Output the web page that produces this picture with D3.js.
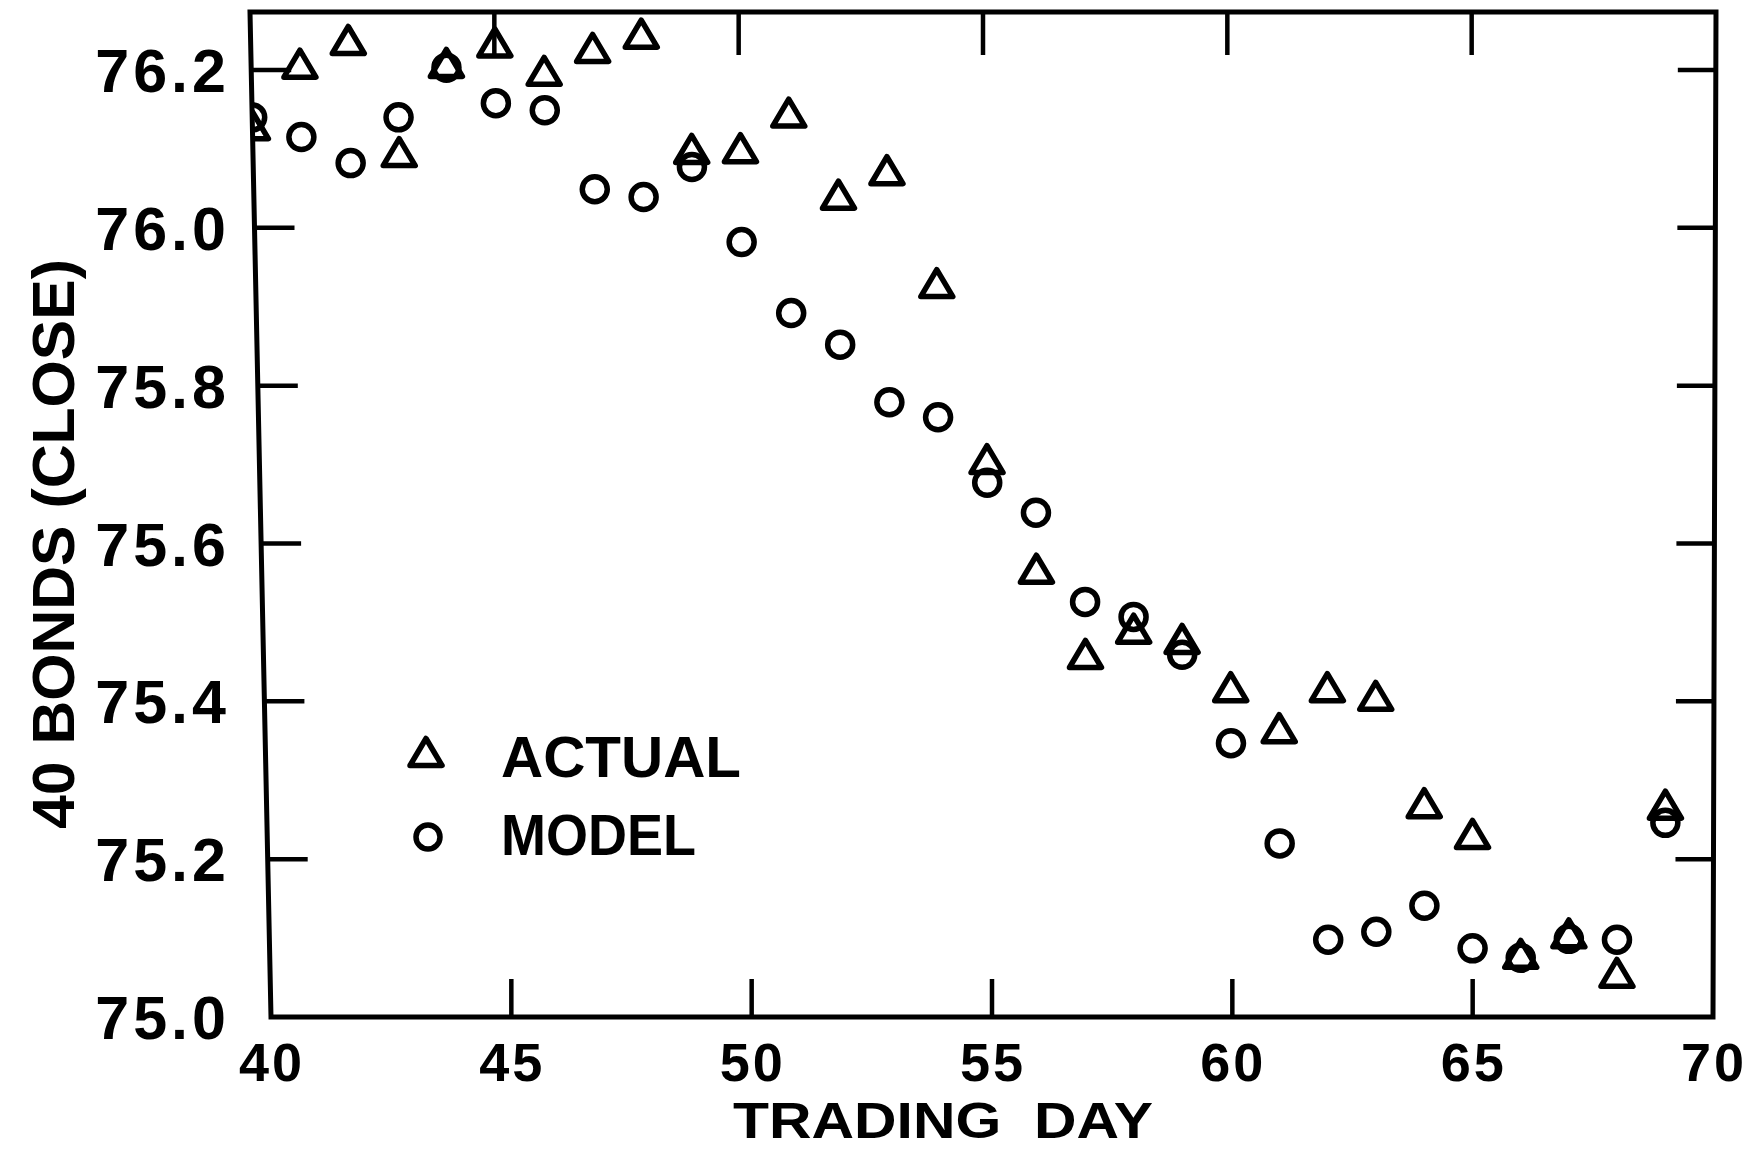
<!DOCTYPE html>
<html>
<head>
<meta charset="utf-8">
<script src="https://cdn.jsdelivr.net/npm/d3@7"></script>
<style>
  html, body { margin: 0; padding: 0; background: #fff; }
  svg { display: block; }
  text { font-family: "Liberation Sans", Arial, sans-serif; font-weight: bold; fill: #000; }
</style>
</head>
<body>
<svg id="chart" width="1748" height="1149"></svg>
<script>
// ---------------- data ----------------
const tradingDays = [40, 41, 42, 43, 44, 45, 46, 47, 48, 49,
                     50, 51, 52, 53, 54, 55, 56, 57, 58, 59,
                     60, 61, 62, 63, 64, 65, 66, 67, 68, 69];

const actualClose = [76.130, 76.208, 76.238, 76.096, 76.209, 76.235, 76.199, 76.228, 76.246, 76.100,
                     76.101, 76.146, 76.042, 76.073, 75.930, 75.707, 75.568, 75.460, 75.492, 75.479,
                     75.418, 75.366, 75.418, 75.407, 75.271, 75.232, 75.080, 75.106, 75.056, 75.269];

const modelClose  = [76.140, 76.115, 76.082, 76.140, 76.203, 76.158, 76.149, 76.049, 76.039, 76.077,
                     75.982, 75.892, 75.852, 75.779, 75.760, 75.677, 75.639, 75.526, 75.507, 75.459,
                     75.347, 75.220, 75.098, 75.108, 75.141, 75.087, 75.075, 75.099, 75.098, 75.246];

const xTickValues = [40, 45, 50, 55, 60, 65, 70];
const xTickLabels = ["40", "45", "50", "55", "60", "65", "70"];
const yTickValues = [75.0, 75.2, 75.4, 75.6, 75.8, 76.0, 76.2];
const yTickLabels = ["75.0", "75.2", "75.4", "75.6", "75.8", "76.0", "76.2"];

const xTitle = "TRADING  DAY";
const yTitle = "40 BONDS (CLOSE)";
const legendLabels = ["ACTUAL", "MODEL"];

// ---------------- scales ----------------
const svg = d3.select("#chart");

const y = d3.scaleLinear().domain([75.0, 76.2]).range([1017, 70]);
const yTopVal = y.invert(12);
// the scanned frame is slightly keystoned: the top edge is a bit wider than the bottom
const xBottom = d3.scaleLinear().domain([40, 70]).range([271, 1713]);
const xTop = d3.scaleLinear().domain([40, 70]).range([250, 1716]);

function px(day, v) {
  const t = (y(75.0) - y(v)) / (y(75.0) - y(yTopVal));
  return xBottom(day) + (xTop(day) - xBottom(day)) * t;
}

const dMin = 40, dMax = 70;
const corners = [[dMin, 75.0], [dMax, 75.0], [dMax, yTopVal], [dMin, yTopVal]]
  .map(([d, v]) => [px(d, v), y(v)]);

// clip region = plot frame
svg.append("defs").append("clipPath").attr("id", "plotClip")
  .append("polygon").attr("points", corners.map(p => p.join(",")).join(" "));

// ---------------- frame & ticks ----------------
const axisG = svg.append("g").attr("stroke", "#000").attr("fill", "none");

axisG.append("polygon")
  .attr("points", corners.map(p => p.join(",")).join(" "))
  .attr("stroke-width", 5)
  .attr("stroke-linejoin", "miter");

const innerY = yTickValues.filter(v => v > 75.0 && v < 76.3);
const innerX = xTickValues.filter(d => d > dMin && d < dMax);

// left ticks (inward)
axisG.selectAll(".lt").data(innerY).join("line")
  .attr("x1", v => px(dMin, v)).attr("x2", v => px(dMin, v) + 40)
  .attr("y1", v => y(v)).attr("y2", v => y(v))
  .attr("stroke-width", 4.5);
// right ticks (inward)
axisG.selectAll(".rt").data(innerY).join("line")
  .attr("x1", v => px(dMax, v)).attr("x2", v => px(dMax, v) - 38)
  .attr("y1", v => y(v)).attr("y2", v => y(v))
  .attr("stroke-width", 4.5);
// bottom ticks (inward)
axisG.selectAll(".bt").data(innerX).join("line")
  .attr("x1", d => px(d, 75.0)).attr("x2", d => px(d, 75.0))
  .attr("y1", y(75.0)).attr("y2", y(75.0) - 38)
  .attr("stroke-width", 4.5);
// top ticks (inward)
axisG.selectAll(".tt").data(innerX).join("line")
  .attr("x1", d => px(d, yTopVal)).attr("x2", d => px(d, yTopVal))
  .attr("y1", y(yTopVal)).attr("y2", y(yTopVal) + 43)
  .attr("stroke-width", 4.5);

// ---------------- tick labels ----------------
svg.append("g").selectAll("text").data(yTickValues).join("text")
  .attr("x", 230)
  .attr("y", v => y(v) + 22)
  .attr("text-anchor", "end")
  .attr("font-size", 61)
  .attr("letter-spacing", 4)
  .text((v, i) => yTickLabels[i]);

svg.append("g").selectAll("text").data(xTickValues).join("text")
  .attr("x", d => xBottom(d) + 1)
  .attr("y", 1081)
  .attr("text-anchor", "middle")
  .attr("font-size", 54)
  .attr("letter-spacing", 3)
  .text((d, i) => xTickLabels[i]);

// ---------------- axis titles ----------------
svg.append("text")
  .attr("x", 943).attr("y", 1138)
  .attr("text-anchor", "middle")
  .attr("font-size", 50)
  .attr("xml:space", "preserve")
  .style("white-space", "pre")
  .attr("textLength", 420)
  .attr("lengthAdjust", "spacingAndGlyphs")
  .text(xTitle);

svg.append("text")
  .attr("transform", "translate(74,544) rotate(-90)")
  .attr("text-anchor", "middle")
  .attr("font-size", 60)
  .attr("textLength", 570)
  .attr("lengthAdjust", "spacingAndGlyphs")
  .text(yTitle);

// ---------------- markers ----------------
const triPath = "M0,-13.5 L16,13.5 L-16,13.5 Z";
const markG = svg.append("g").attr("clip-path", "url(#plotClip)")
  .attr("fill", "none").attr("stroke", "#000").attr("stroke-width", 5.5)
  .attr("stroke-linejoin", "round");

markG.selectAll("path.actual").data(tradingDays).join("path")
  .attr("class", "actual")
  .attr("d", triPath)
  .attr("transform", (d, i) => `translate(${px(d, actualClose[i])},${y(actualClose[i])})`);

markG.selectAll("circle.model").data(tradingDays).join("circle")
  .attr("class", "model")
  .attr("r", 12.5)
  .attr("cx", (d, i) => px(d, modelClose[i]))
  .attr("cy", (d, i) => y(modelClose[i]));

// ---------------- legend ----------------
const legG = svg.append("g");
legG.append("path")
  .attr("d", triPath)
  .attr("transform", "translate(426,752)")
  .attr("fill", "none").attr("stroke", "#000").attr("stroke-width", 5.5)
  .attr("stroke-linejoin", "round");
legG.append("circle")
  .attr("cx", 428).attr("cy", 837).attr("r", 12)
  .attr("fill", "none").attr("stroke", "#000").attr("stroke-width", 5.5);
legG.append("text")
  .attr("x", 501).attr("y", 777)
  .attr("font-size", 57)
  .attr("textLength", 240).attr("lengthAdjust", "spacingAndGlyphs")
  .text(legendLabels[0]);
legG.append("text")
  .attr("x", 501).attr("y", 855)
  .attr("font-size", 57)
  .attr("textLength", 195).attr("lengthAdjust", "spacingAndGlyphs")
  .text(legendLabels[1]);
</script>
</body>
</html>
